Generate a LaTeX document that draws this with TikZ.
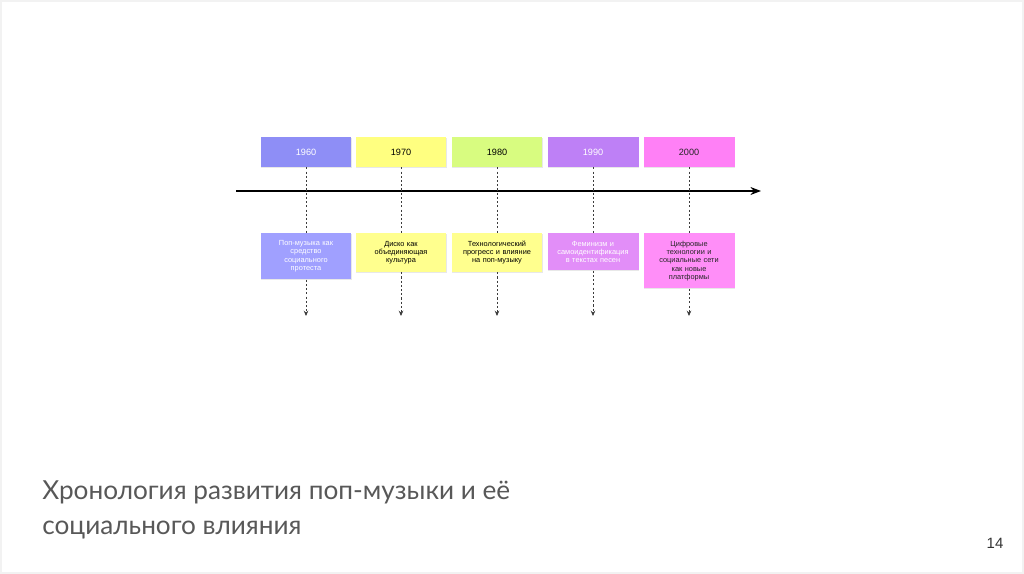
\documentclass[tikz,border=0pt]{standalone}
\usepackage{fontspec}
\setmainfont{Liberation Sans}
\newfontfamily\titlefont{Lato}
\usetikzlibrary{arrows.meta,positioning,shadows}
\definecolor{yrA}{RGB}{142,142,246}
\definecolor{yrB}{RGB}{255,255,128}
\definecolor{yrC}{RGB}{216,252,128}
\definecolor{yrD}{RGB}{190,128,246}
\definecolor{yrE}{RGB}{255,128,246}
\definecolor{evA}{RGB}{160,160,255}
\definecolor{evB}{RGB}{255,255,142}
\definecolor{evD}{RGB}{226,142,248}
\definecolor{evE}{RGB}{255,142,248}
\definecolor{ttlgray}{RGB}{88,88,88}
\definecolor{lkgray}{RGB}{60,60,60}

\begin{document}
\begin{tikzpicture}[x=0.02cm, y=-0.02cm,
  yr/.style={draw=none, minimum width=1.82cm, minimum height=0.6cm,
    inner sep=1pt, font=\fontsize{5.2}{6}\selectfont,
    drop shadow={shadow xshift=0.3pt, shadow yshift=-0.5pt,
      opacity=0.18, fill=gray}},
  ev/.style={draw=none, anchor=north, minimum width=1.82cm,
    text width=1.7cm, align=center, inner sep=1pt,
    font=\fontsize{4.2}{4.7}\selectfont,
    drop shadow={shadow xshift=0.3pt, shadow yshift=-0.5pt,
      opacity=0.18, fill=gray}},
  lk/.style={draw=lkgray, line width=0.55pt, dash pattern=on 1.2pt off 1.2pt},
  ax/.style={draw=black, line width=1.1pt, -{Stealth[length=6pt, width=4.5pt]}},
  title/.style={anchor=north west, inner sep=0pt, align=left,
    text=ttlgray, font=\titlefont\fontsize{14.9}{20.4}\selectfont},
]
\useasboundingbox (0,0) rectangle (1024,574);
% slide frame
\draw[gray!10, line width=0.6pt] (1,1) rectangle (1023,573);
% time axis
\coordinate (a0) at (236,191);
\coordinate (a1) at (761,191);
\draw[ax] (a0) -- (a1);
% decades above the axis
\foreach \n/\t/\x/\fc/\tc in {1/1960/306/yrA/white, 2/1970/401/yrB/black,
    3/1980/497/yrC/black, 4/1990/593/yrD/white, 5/2000/689/yrE/black!85} {
  \node[yr, fill=\fc, text=\tc] (y\n) at (\x,152) {\t};
}
% events below the axis
\foreach \n/\t/\x/\h/\fc/\tc in {
    1/{Поп-музыка как\\средство\\социального\\протеста}/306/0.92/evA/white,
    2/{Диско как\\объединяющая\\культура}/401/0.77/evB/black,
    3/{Технологический\\прогресс и влияние\\на поп-музыку}/497/0.77/evB/black,
    4/{Феминизм и\\самоидентификация\\в текстах песен}/593/0.74/evD/white,
    5/{Цифровые\\технологии и\\социальные сети\\как новые\\платформы}/689/1.1/evE/black!85} {
  \node[ev, fill=\fc, text=\tc, minimum height=\h cm] (e\n) at (\x,233) {\t};
  \coordinate (d\n) at (\x,316);
  \draw[lk] (y\n) -- (e\n);
  \draw[lk, -{Stealth[length=3pt, width=2.6pt]}] (e\n) -- (d\n);
}
% caption
\node[title] (ttl) at (42,480) {Хронология развития поп-музыки и её\\
  социального влияния};
\node[text=black!80, font=\fontsize{8.5}{10}\selectfont] (pg) at (995,543) {14};
\end{tikzpicture}
\end{document}
